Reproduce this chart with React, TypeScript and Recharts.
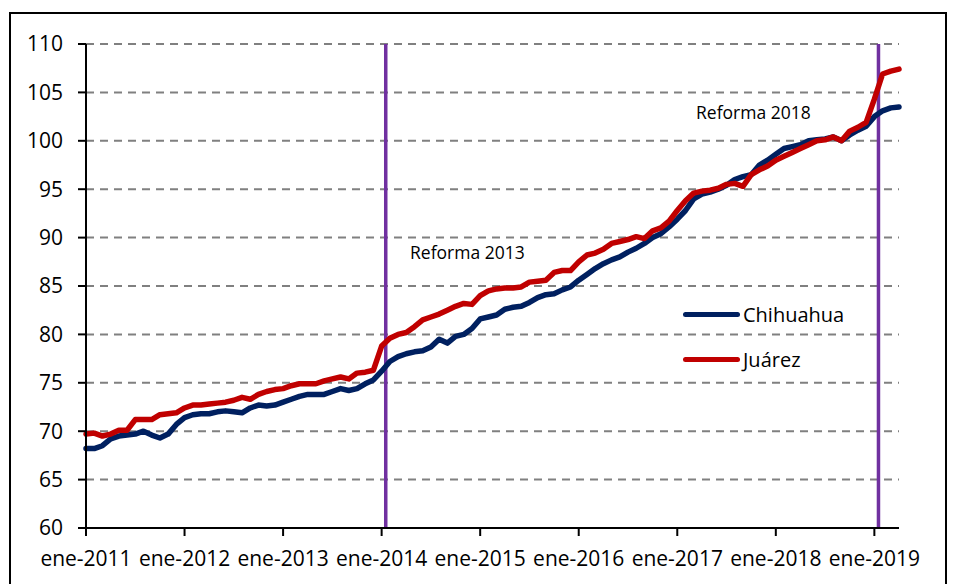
import React from "react";
import {
  LineChart,
  Line,
  XAxis,
  YAxis,
  CartesianGrid,
  ReferenceLine,
} from "recharts";

// Índice mensual, ene-2011 a abr-2019
const chihuahua = [
  68.2, 68.2, 68.5, 69.2, 69.5, 69.6, 69.7, 70.0, 69.6, 69.3, 69.7, 70.7,
  71.4, 71.7, 71.8, 71.8, 72.0, 72.1, 72.0, 71.9, 72.4, 72.7, 72.6, 72.7,
  73.0, 73.3, 73.6, 73.8, 73.8, 73.8, 74.1, 74.4, 74.2, 74.4, 74.9, 75.3,
  76.2, 77.2, 77.7, 78.0, 78.2, 78.3, 78.7, 79.5, 79.1, 79.8, 80.0, 80.6,
  81.6, 81.8, 82.0, 82.6, 82.8, 82.9, 83.3, 83.8, 84.1, 84.2, 84.6, 84.9,
  85.6, 86.2, 86.8, 87.3, 87.7, 88.0, 88.5, 88.9, 89.4, 90.0, 90.4, 91.1,
  91.9, 92.8, 94.0, 94.5, 94.7, 95.0, 95.4, 96.0, 96.3, 96.5, 97.5, 98.0,
  98.6, 99.2, 99.4, 99.6, 100.0, 100.1, 100.2, 100.4, 100.0, 100.6, 101.1, 101.5,
  102.5, 103.1, 103.4, 103.5,
];

const juarez = [
  69.7, 69.8, 69.5, 69.7, 70.1, 70.1, 71.2, 71.2, 71.2, 71.7, 71.8, 71.9,
  72.4, 72.7, 72.7, 72.8, 72.9, 73.0, 73.2, 73.5, 73.3, 73.8, 74.1, 74.3,
  74.4, 74.7, 74.9, 74.9, 74.9, 75.2, 75.4, 75.6, 75.4, 76.0, 76.1, 76.3,
  78.8, 79.6, 80.0, 80.2, 80.8, 81.5, 81.8, 82.1, 82.5, 82.9, 83.2, 83.1,
  84.0, 84.5, 84.7, 84.8, 84.8, 84.9, 85.4, 85.5, 85.6, 86.4, 86.6, 86.6,
  87.5, 88.2, 88.4, 88.8, 89.4, 89.6, 89.8, 90.1, 89.9, 90.7, 91.0, 91.7,
  92.8, 93.8, 94.6, 94.8, 94.9, 95.1, 95.5, 95.6, 95.3, 96.5, 97.0, 97.4,
  98.0, 98.4, 98.8, 99.2, 99.6, 100.0, 100.1, 100.4, 100.0, 101.0, 101.4, 101.9,
  104.3, 106.9, 107.2, 107.4,
];

const yearLabels = [
  "ene-2011",
  "ene-2012",
  "ene-2013",
  "ene-2014",
  "ene-2015",
  "ene-2016",
  "ene-2017",
  "ene-2018",
  "ene-2019",
];

const yTicks = [60, 65, 70, 75, 80, 85, 90, 95, 100, 105, 110];

// reforms fall between jan and feb of each year
const reformas = [
  { x: 36.5, label: "Reforma 2013" },
  { x: 96.5, label: "Reforma 2018" },
];

const NAVY = "#002060";
const RED = "#C00000";
const PURPLE = "#7030A0";
const FONT = "'Open Sans', sans-serif";

const data = chihuahua.map((v, i) => ({
  idx: i,
  Chihuahua: v,
  Juárez: juarez[i],
}));

const xTicks = yearLabels.map((_, i) => i * 12);

const series = [
  { name: "Chihuahua", color: NAVY },
  { name: "Juárez", color: RED },
];

function LegendBox() {
  return (
    <div
      style={{
        position: "absolute",
        left: 683,
        top: 292,
        fontFamily: FONT,
        fontSize: 20,
        color: "#000",
      }}
    >
      {series.map((it) => (
        <div
          key={it.name}
          style={{ display: "flex", alignItems: "center", height: 45 }}
        >
          <div
            style={{
              width: 57,
              height: 5,
              borderRadius: 3,
              background: it.color,
              marginRight: 3,
            }}
          />
          <span>{it.name}</span>
        </div>
      ))}
    </div>
  );
}

export default function App() {
  return (
    <div
      style={{
        position: "absolute",
        left: 0,
        top: 0,
        width: 957,
        height: 584,
        overflow: "hidden",
        background: "#fff",
      }}
    >
      <div
        style={{
          position: "absolute",
          left: 9,
          top: 12,
          width: 938,
          height: 620,
          border: "2px solid #000",
          boxSizing: "border-box",
        }}
      />
      <LineChart
        width={957}
        height={584}
        data={data}
        margin={{ top: 44, right: 58, left: 0, bottom: 0 }}
        style={{ fontFamily: FONT, position: "absolute", left: 0, top: 0 }}
      >
        <CartesianGrid
          horizontal
          vertical={false}
          stroke="#808080"
          strokeWidth={2}
          strokeDasharray="8 6"
        />
        <XAxis
          dataKey="idx"
          type="number"
          domain={[0, 99]}
          ticks={xTicks}
          interval={0}
          height={56}
          tickFormatter={(v: number) => yearLabels[v / 12]}
          tick={{ fill: "#000", fontSize: 21 }}
          tickSize={8}
          tickMargin={15}
          axisLine={{ stroke: "#000", strokeWidth: 2 }}
          tickLine={{ stroke: "#000", strokeWidth: 2 }}
        />
        <YAxis
          domain={[60, 110]}
          ticks={yTicks}
          interval={0}
          width={86}
          tick={{ fill: "#000", fontSize: 21 }}
          tickSize={8}
          tickMargin={15}
          axisLine={{ stroke: "#000", strokeWidth: 2 }}
          tickLine={{ stroke: "#000", strokeWidth: 2 }}
        />
        {reformas.map((r) => (
          <ReferenceLine
            key={r.label}
            x={r.x}
            stroke={PURPLE}
            strokeWidth={3.5}
          />
        ))}
        {series.map((s) => (
          <Line
            key={s.name}
            type="linear"
            dataKey={s.name}
            stroke={s.color}
            strokeWidth={5.5}
            dot={false}
            strokeLinejoin="round"
            strokeLinecap="round"
            isAnimationActive={false}
          />
        ))}
      </LineChart>
      <LegendBox />
      <span
        style={{
          position: "absolute",
          left: 410,
          top: 240,
          fontFamily: FONT,
          fontSize: 17.5,
          color: "#000",
          whiteSpace: "nowrap",
        }}
      >
        {reformas[0].label}
      </span>
      <span
        style={{
          position: "absolute",
          left: 696,
          top: 100,
          fontFamily: FONT,
          fontSize: 17.5,
          color: "#000",
          whiteSpace: "nowrap",
        }}
      >
        {reformas[1].label}
      </span>
    </div>
  );
}
